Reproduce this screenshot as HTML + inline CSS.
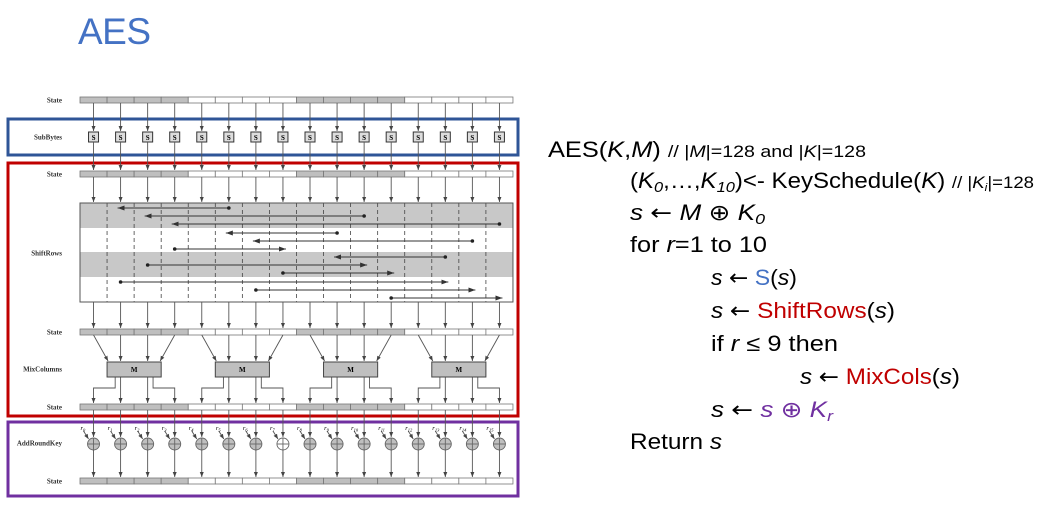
<!DOCTYPE html>
<html><head><meta charset="utf-8"><style>
html,body{margin:0;padding:0;background:#fff;width:1062px;height:508px;overflow:hidden}
svg{display:block}
.ar{font-family:"DejaVu Sans",sans-serif}
</style></head><body>
<svg id="s" width="1062" height="508" xmlns="http://www.w3.org/2000/svg">
<defs>
<marker id="ah" markerWidth="6" markerHeight="6" refX="5" refY="3" orient="auto" markerUnits="userSpaceOnUse"><path d="M0,1 L5,3 L0,5 z" fill="#444"/></marker>
<marker id="ah2" markerWidth="8" markerHeight="6" refX="7" refY="3" orient="auto" markerUnits="userSpaceOnUse"><path d="M0,0.5 L7,3 L0,5.5 z" fill="#333"/></marker>
</defs>
<text x="78" y="44" font-family="Liberation Sans, sans-serif" font-size="37" fill="#4472c4" textLength="73">AES</text>
<g id="diag"></g>
<g font-family="Liberation Sans, sans-serif" font-size="22" fill="#000">
<text x="548" y="157" textLength="318" lengthAdjust="spacingAndGlyphs">AES(<tspan font-style="italic">K</tspan>,<tspan font-style="italic">M</tspan>) <tspan font-size="17">// |<tspan font-style="italic">M</tspan>|=128 and |<tspan font-style="italic">K</tspan>|=128</tspan></text>
<text x="630" y="188" textLength="404" lengthAdjust="spacingAndGlyphs">(<tspan font-style="italic">K</tspan><tspan font-style="italic" font-size="15" dy="4">0</tspan><tspan dy="-4">,…,</tspan><tspan font-style="italic">K</tspan><tspan font-style="italic" font-size="15" dy="4">10</tspan><tspan dy="-4">)&lt;- KeySchedule(</tspan><tspan font-style="italic">K</tspan>) <tspan font-size="17">// |<tspan font-style="italic">K</tspan><tspan font-size="11" font-style="italic" dy="3">i</tspan><tspan dy="-3">|=128</tspan></tspan></text>
<text x="630" y="220" textLength="135" lengthAdjust="spacingAndGlyphs"><tspan font-style="italic">s</tspan> <tspan class="ar">←</tspan> <tspan font-style="italic">M</tspan> <tspan class="ar">⊕</tspan> <tspan font-style="italic">K</tspan><tspan font-style="italic" font-size="15" dy="4">0</tspan></text>
<text x="630" y="252" textLength="137" lengthAdjust="spacingAndGlyphs">for <tspan font-style="italic">r</tspan>=1 to 10</text>
<text x="711" y="285" textLength="86" lengthAdjust="spacingAndGlyphs"><tspan font-style="italic">s</tspan> <tspan class="ar">←</tspan> <tspan fill="#4472c4">S</tspan>(<tspan font-style="italic">s</tspan>)</text>
<text x="711" y="318" textLength="184" lengthAdjust="spacingAndGlyphs"><tspan font-style="italic">s</tspan> <tspan class="ar">←</tspan> <tspan fill="#c00000">ShiftRows</tspan>(<tspan font-style="italic">s</tspan>)</text>
<text x="711" y="351" textLength="127" lengthAdjust="spacingAndGlyphs">if <tspan font-style="italic">r</tspan> ≤ 9 then</text>
<text x="800" y="384" textLength="160" lengthAdjust="spacingAndGlyphs"><tspan font-style="italic">s</tspan> <tspan class="ar">←</tspan> <tspan fill="#c00000">MixCols</tspan>(<tspan font-style="italic">s</tspan>)</text>
<text x="711" y="417" textLength="122" lengthAdjust="spacingAndGlyphs"><tspan font-style="italic">s</tspan> <tspan class="ar">←</tspan> <tspan fill="#7030a0" font-style="italic">s</tspan><tspan fill="#7030a0"> </tspan><tspan fill="#7030a0" class="ar">⊕</tspan><tspan fill="#7030a0"> </tspan><tspan fill="#7030a0" font-style="italic">K</tspan><tspan fill="#7030a0" font-style="italic" font-size="15" dy="4">r</tspan></text>
<text x="630" y="449" textLength="92" lengthAdjust="spacingAndGlyphs">Return <tspan font-style="italic">s</tspan></text>
</g>
</svg>
<script>
const cols = [0,1,2,3,4,5,6,7,8,9,10,11,12,13,14,15];
const shaded = [1,1,1,1,0,0,0,0,1,1,1,1,0,0,0,0];
const shiftFrom = [5,10,15, 9,14,3, 13,2,7, 1,6,11];
const shiftTo   = [1,2,3, 5,6,7, 9,10,11, 13,14,15];
const keyLabels = ["0","1","2","3","4","5","6","7","8","9","10","11","12","13","14","15"];
const NS="http://www.w3.org/2000/svg";
const g=document.getElementById('diag');
const X0=80,CW=27.06;
function cx(i){return X0+CW*i+CW/2;}
function mk(tag,at,parent){const e=document.createElementNS(NS,tag);for(const k in at)e.setAttribute(k,at[k]);(parent||g).appendChild(e);return e;}
function line(x1,y1,x2,y2,arrow,stroke){const l=mk('line',{x1,y1,x2,y2,stroke:stroke||'#555','stroke-width':0.9});if(arrow)l.setAttribute('marker-end','url(#ah)');return l;}
function label(t,y){const e=mk('text',{x:62,y:y+2.5,'text-anchor':'end','font-family':'Liberation Serif, serif','font-size':7,'font-weight':'bold',fill:'#333'});e.textContent=t;return e;}
function state(y){
  cols.forEach(i=>{const r=mk('rect',{x:X0+CW*i,y:y,width:CW,height:6,fill:shaded[i]?'#bfbfbf':'#fff',stroke:'#777','stroke-width':0.8});
  
  });
}
const fb=mk('rect',{x:8,y:119,width:510,height:36,fill:'none',stroke:'#2f5597','stroke-width':3});

const fr=mk('rect',{x:8,y:163,width:510,height:253,fill:'none',stroke:'#c00000','stroke-width':3});

const fp=mk('rect',{x:8,y:422,width:510,height:74,fill:'none',stroke:'#7030a0','stroke-width':3});

label('State',100);state(97);
label('SubBytes',137);
cols.forEach(i=>{line(cx(i),103,cx(i),131,true);
  const b=mk('rect',{x:cx(i)-5,y:132,width:10,height:10,fill:'#ddd',stroke:'#333','stroke-width':1});
  
  const t=mk('text',{x:cx(i),y:140,'text-anchor':'middle','font-family':'Liberation Serif, serif','font-size':7,'font-weight':'bold'});t.textContent='S';
  line(cx(i),142,cx(i),170,true);});
label('State',174);state(171);
const bands=[203,228,252,277];
bands.forEach((y,k)=>mk('rect',{x:X0,y:y,width:CW*16,height:(k<3?bands[k+1]:302)-y,fill:k%2==0?'#c8c8c8':'#fff'}));
for(let i=1;i<16;i++)mk('line',{x1:X0+CW*i,y1:203,x2:X0+CW*i,y2:302,stroke:'#444','stroke-width':0.8,'stroke-dasharray':'4,3'});
const sr=mk('rect',{x:X0,y:203,width:CW*16,height:99,fill:'none',stroke:'#555','stroke-width':1});

label('ShiftRows',253);
cols.forEach(i=>line(cx(i),177,cx(i),202,true));
shiftFrom.forEach((f,k)=>{const band=Math.floor(k/3),y=bands[band]+5+8*(k%3);
  const a=mk('line',{x1:cx(f),y1:y,x2:cx(shiftTo[k])+(shiftTo[k]<f?-3:3),y2:y,stroke:'#333','stroke-width':1,'marker-end':'url(#ah2)'});
  
  mk('circle',{cx:cx(f),cy:y,r:1.8,fill:'#222'});});
cols.forEach(i=>line(cx(i),302,cx(i),328,true));
label('State',332);state(329);
label('MixColumns',369);
for(let m=0;m<4;m++){
  const bx=X0+CW*(4*m+1),bw=CW*2;
  for(let j=0;j<4;j++){const c=4*m+j;
    const tx=j==0?bx+1:j==3?bx+bw-1:cx(c);
    line(cx(c),335,tx,361,true);
    const sx=j==0?bx+CW*0.3:j==3?bx+bw-CW*0.3:cx(c);
    const p=mk('polyline',{points:`${sx},377 ${sx},388 ${cx(c)},388 ${cx(c)},403`,fill:'none',stroke:'#555','stroke-width':0.9,'marker-end':'url(#ah)'});
    if(j==1||j==2)p.setAttribute('points',`${cx(c)},377 ${cx(c)},403`);
  }
  const b=mk('rect',{x:bx,y:362,width:bw,height:15,fill:'#bfbfbf',stroke:'#444','stroke-width':1});
  
  const t=mk('text',{x:bx+bw/2,y:372,'text-anchor':'middle','font-family':'Liberation Serif, serif','font-size':7,'font-weight':'bold'});t.textContent='M';
}
label('State',407);state(404);
label('AddRoundKey',443);
cols.forEach(i=>{line(cx(i),410,cx(i),437,true);
  const c=mk('circle',{cx:cx(i),cy:444,r:6,fill:i==7?'#fff':'#bfbfbf',stroke:'#666','stroke-width':0.9});
  
  line(cx(i)-6,444,cx(i)+6,444,false,'#666');line(cx(i),438,cx(i),450,false,'#666');
  line(cx(i)-10,431,cx(i)-5,439,true);
  const t=mk('text',{x:cx(i)-13,y:430,'font-family':'Liberation Serif, serif','font-size':6.5,'font-style':'italic'});
  t.textContent='r';const s=mk('tspan',{'font-size':4.5,dy:1.5},t);s.textContent=keyLabels[i];
  line(cx(i),450,cx(i),477,true);});
label('State',481);state(478);
</script>
</body></html>
